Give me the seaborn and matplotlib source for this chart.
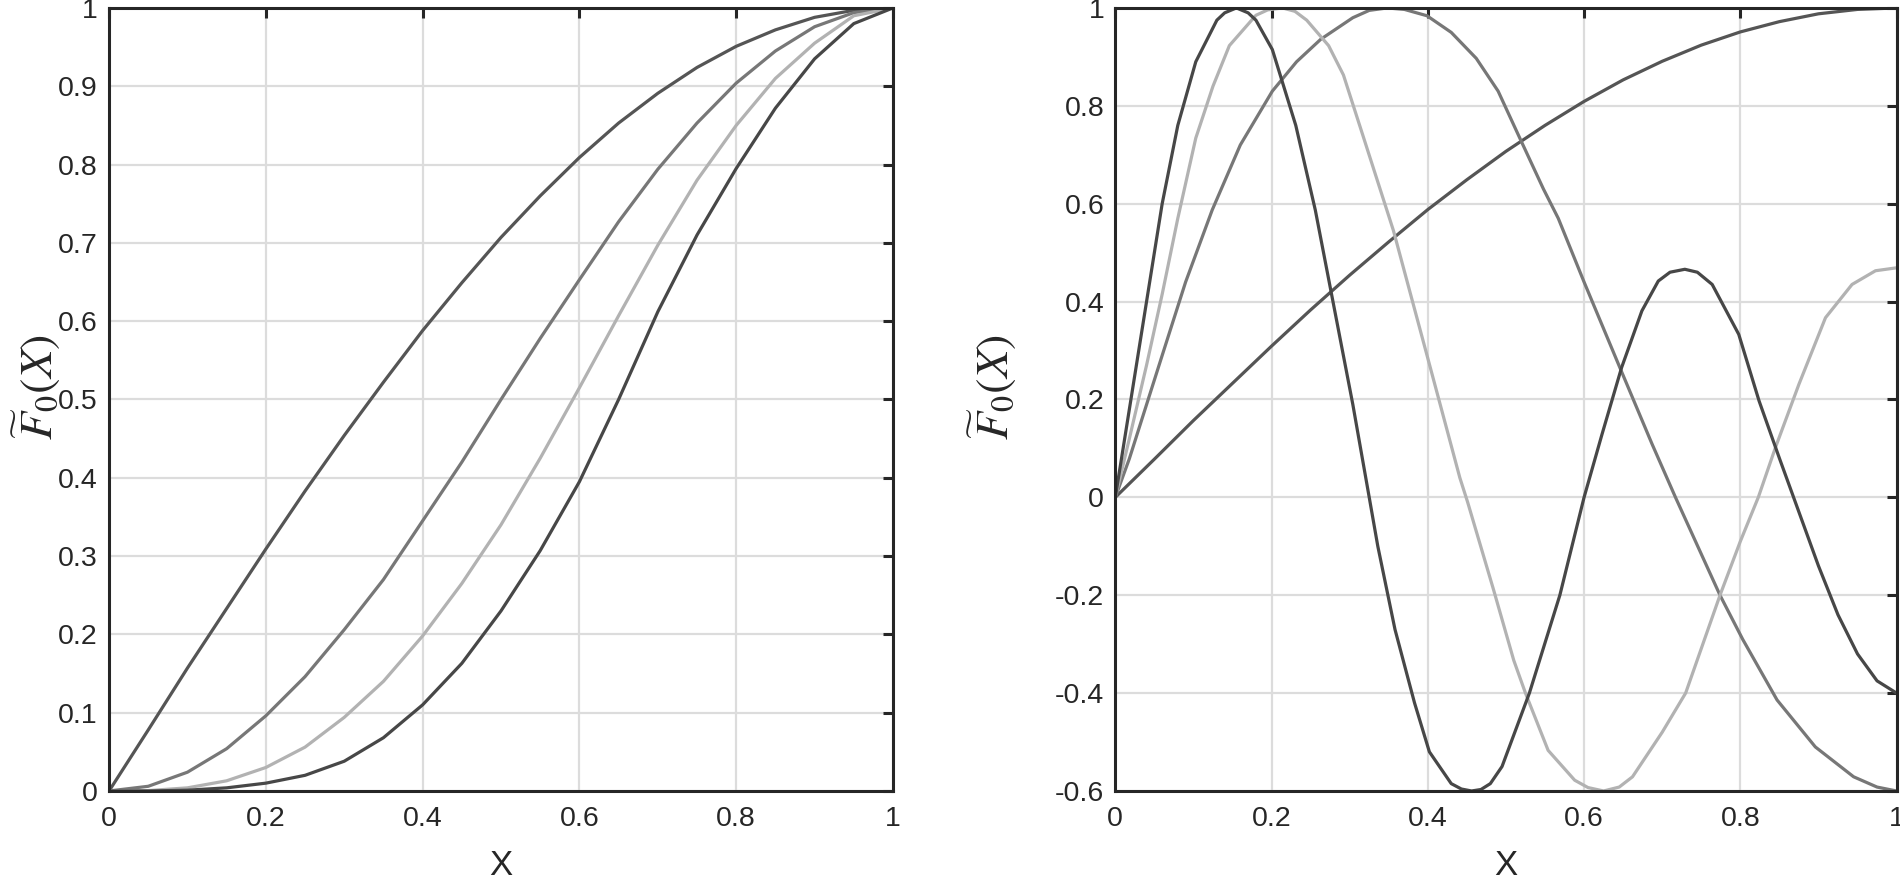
import pandas as pd
import numpy as np
import seaborn as sns
import matplotlib.pyplot as plt
from matplotlib.ticker import FuncFormatter, MultipleLocator

# left panel: four curves read on a common x grid
x_left = [0, 0.05, 0.1, 0.15, 0.2, 0.25, 0.3, 0.35, 0.4, 0.45, 0.5,
          0.55, 0.6, 0.65, 0.7, 0.75, 0.8, 0.85, 0.9, 0.95, 1]
left_top = [0, 0.078, 0.157, 0.233, 0.309, 0.383, 0.454, 0.522, 0.588, 0.649, 0.707,
            0.76, 0.809, 0.853, 0.891, 0.924, 0.951, 0.972, 0.988, 0.997, 1]
left_mid = [0, 0.006, 0.024, 0.054, 0.096, 0.146, 0.206, 0.27, 0.345, 0.42, 0.5,
            0.578, 0.653, 0.727, 0.794, 0.853, 0.904, 0.945, 0.976, 0.994, 1]
left_light = [0, 0.0005, 0.004, 0.013, 0.03, 0.056, 0.094, 0.14, 0.198, 0.265, 0.34,
              0.425, 0.515, 0.607, 0.697, 0.78, 0.85, 0.91, 0.955, 0.99, 1]
left_low = [0, 0, 0.001, 0.004, 0.01, 0.02, 0.038, 0.068, 0.11, 0.163, 0.23,
            0.307, 0.395, 0.5, 0.612, 0.71, 0.795, 0.872, 0.935, 0.98, 1]

# right panel: each curve read at its own x points
r_sin_x = x_left
r_sin_y = left_top

r_dark_x = [0, 0.018, 0.04, 0.06, 0.08, 0.103, 0.13, 0.14, 0.155, 0.17, 0.18, 0.201,
            0.231, 0.256, 0.282, 0.304, 0.325, 0.336, 0.358, 0.383, 0.402, 0.43, 0.443,
            0.456, 0.468, 0.48, 0.495, 0.53, 0.569, 0.6, 0.623, 0.648, 0.674, 0.695, 0.71,
            0.729, 0.745, 0.764, 0.798, 0.824, 0.85, 0.875, 0.9, 0.925, 0.95, 0.975, 1]
r_dark_y = [0, 0.18, 0.4, 0.6, 0.76, 0.89, 0.975, 0.99, 1.0, 0.99, 0.975, 0.915,
            0.76, 0.587, 0.372, 0.19, 0.0, -0.1, -0.27, -0.42, -0.52, -0.585, -0.596,
            -0.6, -0.597, -0.585, -0.55, -0.4, -0.2, 0.0, 0.129, 0.265, 0.381, 0.442, 0.46,
            0.466, 0.46, 0.435, 0.333, 0.197, 0.08, -0.03, -0.14, -0.24, -0.32, -0.375, -0.4]

r_light_x = [0, 0.018, 0.04, 0.06, 0.08, 0.103, 0.125, 0.146, 0.18, 0.195, 0.214, 0.23,
             0.245, 0.273, 0.292, 0.318, 0.356, 0.399, 0.441, 0.451, 0.484, 0.51, 0.525,
             0.554, 0.588, 0.605, 0.625, 0.645, 0.662, 0.7, 0.73, 0.774, 0.8, 0.823, 0.845,
             0.875, 0.909, 0.943, 0.973, 1]
r_light_y = [0, 0.12, 0.27, 0.415, 0.57, 0.734, 0.84, 0.923, 0.985, 0.996, 1.0, 0.993,
             0.975, 0.923, 0.863, 0.734, 0.545, 0.29, 0.04, -0.01, -0.188, -0.333, -0.4,
             -0.517, -0.578, -0.593, -0.6, -0.592, -0.571, -0.48, -0.4, -0.2, -0.09, 0.0, 0.102,
             0.231, 0.367, 0.435, 0.463, 0.469]

r_mid_x = [0, 0.018, 0.06, 0.09, 0.124, 0.16, 0.201, 0.232, 0.263, 0.304, 0.325, 0.348,
           0.37, 0.399, 0.43, 0.462, 0.49, 0.516, 0.548, 0.567, 0.6, 0.644, 0.687, 0.717,
           0.774, 0.803, 0.847, 0.896, 0.945, 0.975, 1]
r_mid_y = [0, 0.079, 0.29, 0.44, 0.587, 0.72, 0.83, 0.89, 0.936, 0.98, 0.995, 1.0,
           0.997, 0.984, 0.95, 0.897, 0.83, 0.74, 0.63, 0.57, 0.44, 0.272, 0.109, 0.0,
           -0.2, -0.29, -0.414, -0.51, -0.571, -0.592, -0.6]

c_dark = "#474747"
c_top = "#555555"
c_mid = "#777777"
c_light = "#b2b2b2"
c_axis = "#262626"

sns.set_style("white")
plt.rcParams['font.family'] = ['Liberation Sans', 'DejaVu Sans']
plt.rcParams['mathtext.fontset'] = 'stix'

fig = plt.figure(figsize=(19, 8.82), dpi=100)
ax1 = fig.add_axes([0.0574, 0.1032, 0.4126, 0.8878])
ax2 = fig.add_axes([0.587, 0.1032, 0.4112, 0.8878])

lw = 2.3
sns.lineplot(x=x_left, y=left_top, color=c_top, lw=lw, ax=ax1)
sns.lineplot(x=x_left, y=left_mid, color=c_mid, lw=lw, ax=ax1)
sns.lineplot(x=x_left, y=left_light, color=c_light, lw=lw, ax=ax1)
sns.lineplot(x=x_left, y=left_low, color=c_dark, lw=lw, ax=ax1)

sns.lineplot(x=r_sin_x, y=r_sin_y, color=c_top, lw=lw, ax=ax2)
sns.lineplot(x=r_mid_x, y=r_mid_y, color=c_mid, lw=lw, ax=ax2)
sns.lineplot(x=r_light_x, y=r_light_y, color=c_light, lw=lw, ax=ax2)
sns.lineplot(x=r_dark_x, y=r_dark_y, color=c_dark, lw=lw, ax=ax2)

fmt = FuncFormatter(lambda v, p: "%g" % round(v, 2))

for ax, ylim, ystep in [(ax1, (0, 1), 0.1), (ax2, (-0.6, 1), 0.2)]:
    ax.set_xlim(0, 1)
    ax.set_ylim(*ylim)
    ax.xaxis.set_major_locator(MultipleLocator(0.2))
    ax.yaxis.set_major_locator(MultipleLocator(ystep))
    ax.xaxis.set_major_formatter(fmt)
    ax.yaxis.set_major_formatter(fmt)
    ax.grid(True, color="#dcdcdc", lw=1.6)
    ax.set_axisbelow(True)
    for s in ax.spines.values():
        s.set_visible(True)
        s.set_color(c_axis)
        s.set_linewidth(2.2)
    ax.tick_params(axis="both", direction="in", length=7, width=2.2,
                   top=True, right=True, labelsize=20.5, colors=c_axis,
                   labelcolor=c_axis)
    ax.tick_params(axis="x", pad=11)
    ax.tick_params(axis="y", pad=8)
    ax.set_xlabel("X", fontsize=25, color=c_axis)
    ax.set_ylabel(r"$\widetilde{F}_0(X)$", fontsize=33, color=c_axis)
    ax.xaxis.set_label_coords(0.5, -0.074)

ax1.yaxis.set_label_coords(-0.06, 0.515)
ax2.yaxis.set_label_coords(-0.124, 0.515)

fig.savefig("out.png", dpi=100)
